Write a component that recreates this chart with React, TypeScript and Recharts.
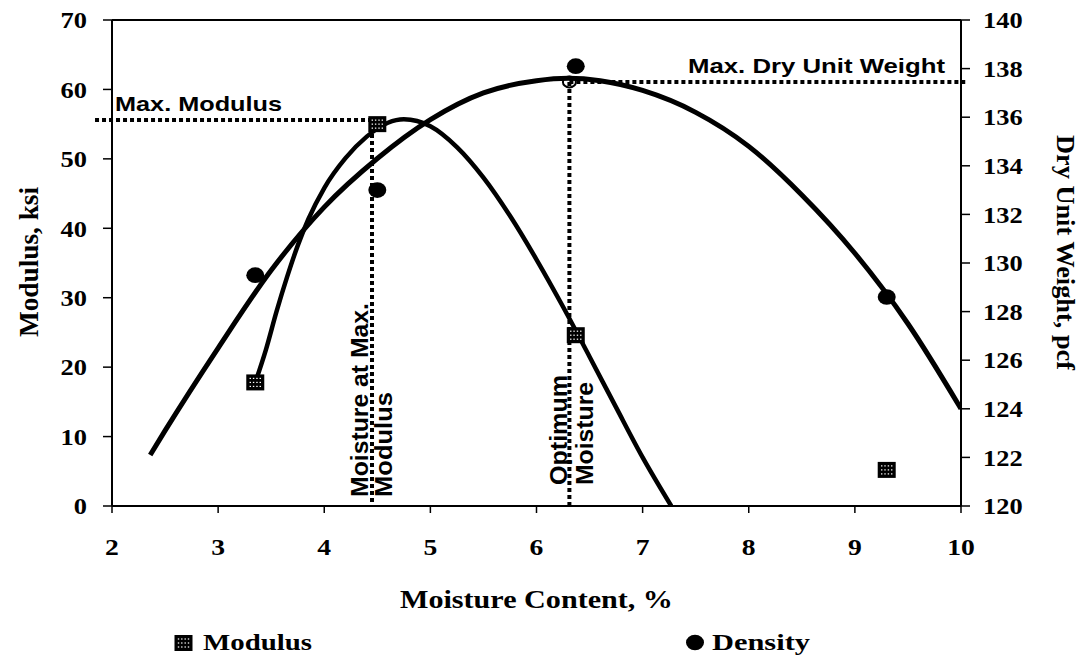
import React from "react";
import {
  ComposedChart,
  Line,
  Scatter,
  XAxis,
  YAxis,
  ReferenceLine,
  Customized,
} from "recharts";

// ---- measured points ----
const moistureTests = [3.35, 4.5, 6.37, 9.3];
const modulusTests = [17.8, 55.0, 24.6, 5.2];
const densityTests = [129.5, 133.0, 138.1, 128.6];

// ---- fitted modulus curve (ksi) ----
const modulusFitX = [3.35, 3.45, 3.55, 3.65, 3.75, 3.85, 4.0, 4.2, 4.4, 4.6, 4.75, 5.0, 5.25, 5.5, 5.75, 6.0, 6.25, 6.5, 6.75, 7.0, 7.27];
const modulusFitY = [17.8, 22.5, 28.0, 33.0, 37.5, 41.3, 45.8, 50.1, 53.2, 55.2, 55.7, 54.7, 51.7, 47.3, 41.8, 35.5, 28.7, 21.5, 14.2, 7.0, 0];

// ---- fitted density curve (pcf) ----
const densityFitX = [2.36, 2.5, 3.0, 3.5, 4.0, 4.5, 5.0, 5.5, 6.0, 6.3, 6.6, 7.0, 7.5, 8.0, 8.5, 9.0, 9.5, 10.0];
const densityFitY = [122.1, 123.1, 126.5, 129.7, 132.3, 134.3, 135.9, 137.0, 137.5, 137.6, 137.5, 137.1, 136.2, 134.8, 132.8, 130.4, 127.5, 124.0];

// ---- optimum / max values ----
const maxModulus = 55.6;
const moistureAtMaxModulus = 4.45;
const optimumMoisture = 6.31;
const maxDryUnitWeight = 137.45;

// ---- axis ticks ----
const xTicks = [2, 3, 4, 5, 6, 7, 8, 9, 10];
const leftTicks = [0, 10, 20, 30, 40, 50, 60, 70];
const rightTicks = [120, 122, 124, 126, 128, 130, 132, 134, 136, 138, 140];

const modulusPoints = moistureTests.map((x, i) => ({ x, y: modulusTests[i] }));
const densityPoints = moistureTests.map((x, i) => ({ x, y: densityTests[i] }));
const modulusFit = modulusFitX.map((x, i) => ({ x, y: modulusFitY[i] }));
const densityFit = densityFitX.map((x, i) => ({ x, y: densityFitY[i] }));
const optimumPoint = [{ x: optimumMoisture, y: maxDryUnitWeight }];

const SERIF = "'Liberation Serif', 'Times New Roman', serif";
const SANS = "'Liberation Sans', Arial, sans-serif";

const HatchSquare = (props: any) => {
  const { cx, cy } = props;
  if (cx == null || cy == null) return null;
  const w = 18, h = 16;
  const dots: any[] = [];
  [-5, -1.7, 1.7, 5].forEach((dx) =>
    [-4, 0, 4].forEach((dy) =>
      dots.push(<rect key={dx + "_" + dy} x={cx + dx - 0.7} y={cy + dy - 0.6} width={1.4} height={1.2} fill="#fff" />)
    )
  );
  return (
    <g>
      <rect x={cx - w / 2} y={cy - h / 2} width={w} height={h} fill="#000" />
      {dots}
    </g>
  );
};

const DensityDot = (props: any) => {
  const { cx, cy } = props;
  if (cx == null || cy == null) return null;
  return <ellipse cx={cx} cy={cy} rx={9} ry={7.8} fill="#000" />;
};

const HollowDot = (props: any) => {
  const { cx, cy } = props;
  if (cx == null || cy == null) return null;
  return <ellipse cx={cx} cy={cy} rx={6.5} ry={5.5} fill="none" stroke="#000" strokeWidth={2} />;
};

const YTick = (props: any) => {
  const { x, y, payload, textAnchor } = props;
  return (
    <text
      x={0}
      y={0}
      transform={`translate(${x},${y}) scale(1.15,1)`}
      textAnchor={textAnchor}
      dy="0.36em"
      fontFamily={SERIF}
      fontWeight="bold"
      fontSize={23}
      fill="#000"
    >
      {payload.value}
    </text>
  );
};

const XTick = (props: any) => {
  const { x, y, payload } = props;
  return (
    <text
      x={0}
      y={0}
      transform={`translate(${x},${y}) scale(1.15,1)`}
      textAnchor="middle"
      dy="0.71em"
      fontFamily={SERIF}
      fontWeight="bold"
      fontSize={24}
      fill="#000"
    >
      {payload.value}
    </text>
  );
};

const Decorations = () => (
  <g>
    {/* annotation labels */}
    <text x={115} y={111} fontFamily={SANS} fontWeight="bold" fontSize={21} textLength={167} lengthAdjust="spacingAndGlyphs" fill="#000">
      Max. Modulus
    </text>
    <text x={688} y={73} fontFamily={SANS} fontWeight="bold" fontSize={21} textLength={257} lengthAdjust="spacingAndGlyphs" fill="#000">
      Max. Dry Unit Weight
    </text>
    <text transform="translate(368,497) rotate(-90)" fontFamily={SANS} fontWeight="bold" fontSize={24} textLength={194} lengthAdjust="spacingAndGlyphs" fill="#000">
      Moisture at Max.
    </text>
    <text transform="translate(392,497) rotate(-90)" fontFamily={SANS} fontWeight="bold" fontSize={24} textLength={105} lengthAdjust="spacingAndGlyphs" fill="#000">
      Modulus
    </text>
    <text transform="translate(567,485) rotate(-90)" fontFamily={SANS} fontWeight="bold" fontSize={24} textLength={110} lengthAdjust="spacingAndGlyphs" fill="#000">
      Optimum
    </text>
    <text transform="translate(593,485) rotate(-90)" fontFamily={SANS} fontWeight="bold" fontSize={24} textLength={103} lengthAdjust="spacingAndGlyphs" fill="#000">
      Moisture
    </text>

    {/* axis titles */}
    <text transform="translate(38,337) rotate(-90)" fontFamily={SERIF} fontWeight="bold" fontSize={27} textLength={150} lengthAdjust="spacingAndGlyphs" fill="#000">
      Modulus, ksi
    </text>
    <text transform="translate(1057,135) rotate(90)" fontFamily={SERIF} fontWeight="bold" fontSize={25} textLength={235} lengthAdjust="spacingAndGlyphs" fill="#000">
      Dry Unit Weight, pcf
    </text>
    <text x={400} y={608} fontFamily={SERIF} fontWeight="bold" fontSize={25} textLength={273} lengthAdjust="spacingAndGlyphs" fill="#000">
      Moisture Content, %
    </text>

    {/* legend */}
    <HatchSquare cx={183.5} cy={643} />
    <text x={203} y={650} fontFamily={SERIF} fontWeight="bold" fontSize={24} textLength={109} lengthAdjust="spacingAndGlyphs" fill="#000">
      Modulus
    </text>
    <DensityDot cx={695} cy={642.5} />
    <text x={712} y={650} fontFamily={SERIF} fontWeight="bold" fontSize={24} textLength={98} lengthAdjust="spacingAndGlyphs" fill="#000">
      Density
    </text>
  </g>
);

const dotted = { stroke: "#000", strokeWidth: 4, strokeDasharray: "4 3" };

export default function App() {
  return (
    <div style={{ position: "absolute", left: 0, top: 0, width: 1084, height: 656, background: "#fff" }}>
      <ComposedChart
        width={1084}
        height={656}
        margin={{ top: 20, right: 43, bottom: 110, left: 50 }}
        style={{ background: "#fff" }}
      >
        <XAxis
          type="number"
          dataKey="x"
          domain={[2, 10]}
          ticks={xTicks}
          allowDataOverflow
          height={40}
          tickSize={7}
          tickMargin={25}
          stroke="#000"
          strokeWidth={2}
          tickLine={{ stroke: "#000", strokeWidth: 1.5 }}
          tick={(p: any) => <XTick {...p} />}
        />
        <YAxis
          yAxisId="left"
          type="number"
          domain={[0, 70]}
          ticks={leftTicks}
          allowDataOverflow
          width={62}
          tickSize={9}
          tickMargin={16}
          stroke="#000"
          strokeWidth={2}
          tickLine={{ stroke: "#000", strokeWidth: 1.5 }}
          tick={(p: any) => <YTick {...p} />}
        />
        <YAxis
          yAxisId="right"
          orientation="right"
          type="number"
          domain={[120, 140]}
          ticks={rightTicks}
          allowDataOverflow
          width={80}
          tickSize={9}
          tickMargin={13}
          stroke="#000"
          strokeWidth={2}
          tickLine={{ stroke: "#000", strokeWidth: 1.5 }}
          tick={(p: any) => <YTick {...p} />}
        />

        {/* top frame */}
        <ReferenceLine yAxisId="left" y={70} stroke="#000" strokeWidth={2} />

        {/* dotted guide lines */}
        <ReferenceLine
          yAxisId="left"
          ifOverflow="visible"
          segment={[{ x: 1.84, y: maxModulus }, { x: 4.5, y: maxModulus }]}
          {...dotted}
        />
        <ReferenceLine
          yAxisId="left"
          ifOverflow="visible"
          segment={[{ x: moistureAtMaxModulus, y: maxModulus }, { x: moistureAtMaxModulus, y: 0 }]}
          {...dotted}
        />
        <ReferenceLine
          yAxisId="right"
          ifOverflow="visible"
          segment={[{ x: optimumMoisture, y: maxDryUnitWeight }, { x: optimumMoisture, y: 120 }]}
          {...dotted}
        />
        <ReferenceLine
          yAxisId="right"
          ifOverflow="visible"
          segment={[{ x: optimumMoisture, y: maxDryUnitWeight }, { x: 10.04, y: maxDryUnitWeight }]}
          {...dotted}
        />

        <Line
          yAxisId="right"
          data={densityFit}
          dataKey="y"
          type="monotone"
          stroke="#000"
          strokeWidth={5}
          dot={false}
          activeDot={false}
          isAnimationActive={false}
        />
        <Line
          yAxisId="left"
          data={modulusFit}
          dataKey="y"
          type="monotone"
          stroke="#000"
          strokeWidth={4.5}
          dot={false}
          activeDot={false}
          isAnimationActive={false}
        />
        <Scatter
          yAxisId="left"
          data={modulusPoints}
          dataKey="y"
          shape={(p: any) => <HatchSquare {...p} />}
          isAnimationActive={false}
        />
        <Scatter
          yAxisId="right"
          data={densityPoints}
          dataKey="y"
          shape={(p: any) => <DensityDot {...p} />}
          isAnimationActive={false}
        />
        <Scatter
          yAxisId="right"
          data={optimumPoint}
          dataKey="y"
          shape={(p: any) => <HollowDot {...p} />}
          isAnimationActive={false}
        />
        <Customized component={Decorations} />
      </ComposedChart>
    </div>
  );
}
